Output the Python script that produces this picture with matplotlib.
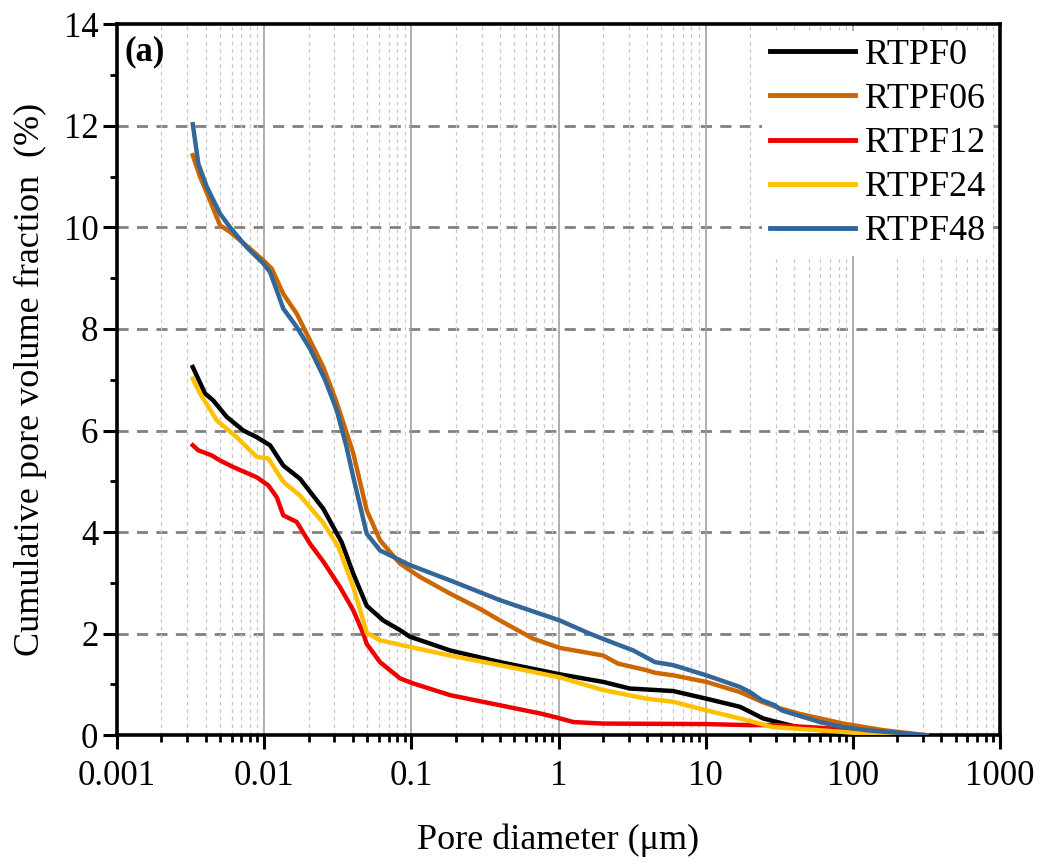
import matplotlib
matplotlib.use("Agg")
import matplotlib.pyplot as plt
from matplotlib.ticker import FixedLocator, LogLocator, NullFormatter, MultipleLocator

plt.rcParams['font.family'] = ['Liberation Serif', 'DejaVu Serif']
plt.rcParams['mathtext.fontset'] = 'stix'

# pore diameter (um) and cumulative pore volume fraction (%) per mix
d_f0 = [0.00327, 0.00396, 0.00451, 0.00556, 0.00721, 0.00889, 0.01095, 0.01348, 0.01751,
        0.0252, 0.0336, 0.0403, 0.0497, 0.0644, 0.0837, 0.0978, 0.183, 0.400, 1.02, 2.01,
        3.05, 6.02, 10.1, 17.1, 24.6, 33.6, 43.6, 73.1, 124, 209]
v_f0 = [7.25, 6.73, 6.59, 6.27, 6.00, 5.87, 5.71, 5.31, 5.05,
        4.46, 3.80, 3.18, 2.55, 2.26, 2.07, 1.94, 1.67, 1.44, 1.20, 1.05,
        0.92, 0.87, 0.72, 0.56, 0.33, 0.23, 0.15, 0.08, 0.02, 0.0]

d_f06 = [0.00327, 0.00366, 0.00428, 0.00501, 0.00586, 0.00801, 0.00986, 0.01124, 0.01348,
         0.01663, 0.0252, 0.0311, 0.0403, 0.0497, 0.0612, 0.0837, 0.114, 0.183, 0.292, 0.400,
         0.673, 1.02, 2.01, 2.54, 3.97, 4.52, 6.02, 10.1, 17.1, 24.0, 31.9, 43.6, 85.9, 161, 317]
v_f06 = [11.42, 11.0, 10.53, 10.04, 9.91, 9.58, 9.35, 9.19, 8.69,
         8.30, 7.25, 6.55, 5.55, 4.43, 3.84, 3.38, 3.12, 2.79, 2.49, 2.26,
         1.90, 1.72, 1.57, 1.41, 1.28, 1.23, 1.18, 1.05, 0.85, 0.66, 0.53, 0.42, 0.23, 0.10, 0.0]

d_f12 = [0.00327, 0.00357, 0.00440, 0.00501, 0.00617, 0.00889, 0.01066, 0.01216, 0.01348,
         0.01663, 0.02048, 0.0252, 0.0327, 0.0403, 0.0471, 0.0497, 0.0612, 0.0837, 0.103,
         0.183, 0.400, 0.747, 0.97, 1.26, 2.01, 10.1, 19.0, 30.3, 73.1, 124, 209]
v_f12 = [5.71, 5.61, 5.51, 5.41, 5.28, 5.08, 4.92, 4.69, 4.33,
         4.20, 3.77, 3.42, 2.92, 2.46, 2.00, 1.80, 1.44, 1.12, 1.02,
         0.79, 0.59, 0.43, 0.35, 0.26, 0.23, 0.22, 0.20, 0.20, 0.13, 0.07, 0.0]

d_f24 = [0.00327, 0.00366, 0.00476, 0.00650, 0.00889, 0.01066, 0.01348, 0.01751, 0.0252,
         0.0319, 0.0403, 0.0497, 0.0612, 0.0978, 0.183, 0.400, 1.02, 2.01, 3.97, 6.02,
         10.1, 17.1, 28.7, 73.1, 124, 209]
v_f24 = [7.02, 6.73, 6.20, 5.87, 5.48, 5.45, 4.99, 4.72, 4.18,
         3.71, 2.92, 2.02, 1.87, 1.74, 1.57, 1.38, 1.14, 0.89, 0.72, 0.66,
         0.49, 0.33, 0.16, 0.08, 0.03, 0.0]

d_f48 = [0.00327, 0.00357, 0.00407, 0.00501, 0.00586, 0.00760, 0.00986, 0.01095, 0.01216,
         0.01348, 0.01663, 0.02048, 0.0259, 0.0311, 0.0363, 0.0403, 0.0497, 0.0612, 0.0978,
         0.183, 0.400, 1.02, 1.63, 2.12, 2.61, 3.22, 4.52, 6.02, 7.81, 10.1, 17.1, 20.0,
         24.0, 29.5, 32.8, 43.6, 59.7, 85.9, 124, 317]
v_f48 = [12.03, 11.25, 10.8, 10.27, 10.0, 9.61, 9.29, 9.12, 8.76,
         8.40, 8.04, 7.61, 7.0, 6.40, 5.67, 5.08, 3.97, 3.64, 3.35,
         3.05, 2.66, 2.26, 2.0, 1.87, 1.77, 1.67, 1.44, 1.38, 1.28, 1.18, 0.95, 0.85,
         0.69, 0.59, 0.49, 0.38, 0.26, 0.16, 0.10, 0.0]

labels = ['RTPF0', 'RTPF06', 'RTPF12', 'RTPF24', 'RTPF48']
colors = ['#000000', '#CC6600', '#EE0000', '#FFC000', '#336699']

fig = plt.figure(figsize=(10.45, 8.65), dpi=100)
ax = fig.add_axes([0.112, 0.150, 0.845, 0.822])

series = [(d_f0, v_f0), (d_f06, v_f06), (d_f12, v_f12), (d_f24, v_f24), (d_f48, v_f48)]
for (d, v), lab, c in zip(series, labels, colors):
    ax.plot(d, v, color=c, lw=3.2, label=lab, zorder=3)

ax.set_xscale('log')
ax.set_xlim(0.001, 1000)
ax.set_ylim(0, 14)

ax.xaxis.set_major_locator(FixedLocator([0.001, 0.01, 0.1, 1, 10, 100, 1000]))
ax.set_xticklabels(['0.001', '0.01', '0.1', '1', '10', '100', '1000'])
ax.xaxis.set_minor_locator(LogLocator(base=10, subs=range(2, 10), numticks=20))
ax.xaxis.set_minor_formatter(NullFormatter())
ax.yaxis.set_major_locator(MultipleLocator(2))
ax.yaxis.set_minor_locator(MultipleLocator(1))

# grid
for yv in range(2, 14, 2):
    ax.axhline(yv, color='#808080', lw=2.0, ls=(0, (4, 3)), zorder=1)
for xv in [0.01, 0.1, 1, 10, 100]:
    ax.axvline(xv, color='#a0a0a0', lw=1.2, zorder=1)
ax.grid(True, which='minor', axis='x', color='#c8c8c8', lw=0.9, ls=(0, (3, 3)), zorder=0)

ax.tick_params(axis='both', which='major', labelsize=25, length=10, width=2.2, direction='out')
ax.tick_params(axis='both', which='minor', length=5, width=2.0, direction='out')
ax.tick_params(axis='x', which='major', pad=8)
for s in ax.spines.values():
    s.set_linewidth(2.6)

ax.set_xlabel('Pore diameter (μm)', fontsize=26, labelpad=22)
ax.set_ylabel('Cumulative pore volume fraction  (%)', fontsize=26, labelpad=12)

ax.text(0.009, 0.985, '(a)', transform=ax.transAxes, fontsize=25, fontweight='bold',
        va='top', ha='left')

leg = ax.legend(loc='upper right', fontsize=26, frameon=True, fancybox=False,
                framealpha=1, edgecolor='none', facecolor='white',
                handlelength=2.35, handletextpad=0.3, labelspacing=0.3,
                borderaxespad=0.2, borderpad=0.2)
for line in leg.get_lines():
    line.set_linewidth(3.5)
leg.set_zorder(5)

fig.savefig('out.png', dpi=100)
